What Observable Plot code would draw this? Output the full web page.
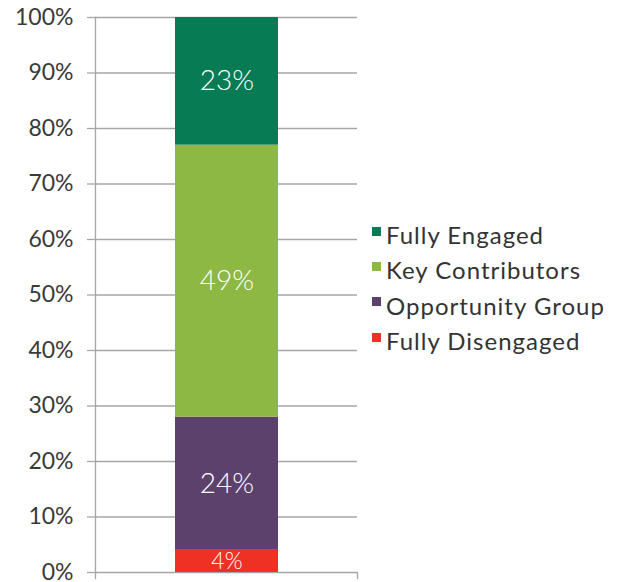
<!DOCTYPE html>
<html>
<head>
<meta charset="utf-8">
<script src="https://cdn.jsdelivr.net/npm/d3@7"></script>
<script src="https://cdn.jsdelivr.net/npm/@observablehq/plot@0.6"></script>
<style>
  body { margin: 0; background: #fff; font-family: Lato, "Open Sans", sans-serif; }
  #wrap { position: relative; width: 620px; height: 582px; }
  #legend { position: absolute; left: 372px; top: 217px; }
  .row { display: flex; align-items: center; height: 35.3px; font-size: 24px; color: #333; letter-spacing: 1px; font-weight: 400; }
  .sw { width: 9px; height: 9px; margin-right: 5px; margin-top: -7px; }
</style>
</head>
<body>
<div id="wrap"></div>
<script>
const categories = ["Fully Disengaged", "Opportunity Group", "Key Contributors", "Fully Engaged"];
const values = [4, 24, 49, 23];
const colors = ["#EE3124", "#5C416D", "#8DB843", "#077B53"];
const yTicks = [0, 10, 20, 30, 40, 50, 60, 70, 80, 90, 100];

const data = categories.map((c, i) => ({group: "All", category: c, value: values[i]}));

const chart = Plot.plot({
  width: 620,
  height: 582,
  marginLeft: 95,
  marginRight: 263,
  marginTop: 17,
  marginBottom: 10,
  style: {fontFamily: "Lato, 'Open Sans', sans-serif", background: "#fff"},
  x: {domain: ["All"], padding: 0.436, axis: null},
  y: {domain: [0, 100], ticks: yTicks, label: null},
  color: {domain: categories, range: colors},
  marks: [
    Plot.gridY(yTicks, {stroke: "#a6a6a6", strokeOpacity: 1, strokeWidth: 1.3}),
    Plot.axisY(yTicks, {tickSize: 8, tickPadding: 14, stroke: "#a6a6a6", strokeWidth: 1.3, tickFormat: d => d + "%", fontSize: 23, fill: "#3a3a3a", fontWeight: 400, label: null}),
    Plot.frame({anchor: "left", stroke: "#a6a6a6", strokeWidth: 1.3, insetBottom: -6}),
    Plot.frame({anchor: "right", stroke: "#a6a6a6", strokeWidth: 1.3, insetTop: 555, insetBottom: -6}),
    Plot.barY(data, Plot.stackY({x: "group", y: "value", fill: "category"})),
    Plot.text(data, Plot.stackY({x: "group", y: "value", text: d => d.value + "%", fill: "white", fontSize: d => d.value < 10 ? 23 : 28, fontWeight: 300}))
  ]
});
document.getElementById("wrap").appendChild(chart);

const legend = document.createElement("div");
legend.id = "legend";
const order = [3, 2, 1, 0];
for (const i of order) {
  const row = document.createElement("div");
  row.className = "row";
  const sw = document.createElement("div");
  sw.className = "sw";
  sw.style.background = colors[i];
  const t = document.createElement("span");
  t.textContent = categories[i];
  row.appendChild(sw);
  row.appendChild(t);
  legend.appendChild(row);
}
document.getElementById("wrap").appendChild(legend);
</script>
</body>
</html>
